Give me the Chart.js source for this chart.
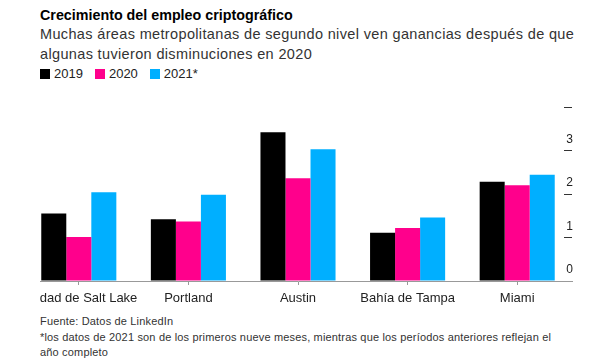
<!DOCTYPE html>
<html lang="es">
<head>
<meta charset="utf-8">
<script src="https://cdn.jsdelivr.net/npm/chart.js@4"></script>
<style>
  body {
    margin: 0;
    width: 589px;
    height: 359px;
    background: #fff;
    font-family: "Liberation Sans", Arial, sans-serif;
    color: #222;
    position: relative;
    overflow: hidden;
  }
  #title {
    position: absolute;
    left: 40px;
    top: 7px;
    font-size: 14.3px;
    font-weight: bold;
    color: #000;
  }
  #subtitle {
    position: absolute;
    left: 40px;
    top: 24px;
    font-size: 14.5px;
    letter-spacing: 0.35px;
    line-height: 20px;
    color: #333;
  }
  #legend {
    position: absolute;
    left: 40px;
    top: 66px;
    font-size: 13px;
    display: flex;
  }
  .item { display: flex; align-items: center; margin-right: 12px; }
  .box { width: 10px; height: 10px; margin-right: 4px; }
  #clip {
    position: absolute;
    left: 40px;
    top: 85px;
    width: 549px;
    height: 226px;
    overflow: hidden;
  }
  #chart-wrap {
    position: absolute;
    left: -40px;
    top: 0;
    width: 589px;
    height: 226px;
  }
  #notes {
    position: absolute;
    left: 40px;
    top: 314px;
    font-size: 11px;
    letter-spacing: 0.17px;
    line-height: 15.5px;
    color: #333;
  }
</style>
</head>
<body>
<div id="title">Crecimiento del empleo criptográfico</div>
<div id="subtitle">Muchas áreas metropolitanas de segundo nivel ven ganancias después de que<br>algunas tuvieron disminuciones en 2020</div>
<div id="legend"></div>
<div id="clip"><div id="chart-wrap"><canvas id="chart"></canvas></div></div>
<div id="notes">Fuente: Datos de LinkedIn<br>*los datos de 2021 son de los primeros nueve meses, mientras que los períodos anteriores reflejan el<br>año completo</div>

<script>
const categories = ["Ciudad de Salt Lake", "Portland", "Austin", "Bahía de Tampa", "Miami"];
const values2019 = [1.55, 1.42, 3.42, 1.11, 2.28];
const values2020 = [1.01, 1.37, 2.36, 1.22, 2.2];
const values2021 = [2.04, 1.98, 3.03, 1.46, 2.44];
const seriesNames = ["2019", "2020", "2021*"];
const seriesColors = ["#000000", "#ff008c", "#00afff"];
const yTickValues = [0, 1, 2, 3, 4];

document.addEventListener("DOMContentLoaded", () => {
  drawLegend();
  drawChart();
});

function drawLegend() {
  const legendDiv = document.getElementById("legend");
  legendDiv.innerHTML = seriesNames
    .map(
      (name, i) =>
        `<div class="item"><span class="box" style="background:${seriesColors[i]}"></span>${name}</div>`
    )
    .join("");
}

function drawChart() {
  const allValues = [values2019, values2020, values2021];
  const ctx = document.getElementById("chart").getContext("2d");

  new Chart(ctx, {
    type: "bar",
    data: {
      labels: categories,
      datasets: allValues.map((values, i) => ({
        label: seriesNames[i],
        data: values,
        backgroundColor: seriesColors[i],
        borderWidth: 0,
        barPercentage: 1,
        categoryPercentage: 0.685,
      })),
    },
    options: {
      responsive: true,
      maintainAspectRatio: false,
      animation: false,
      layout: { padding: { left: 24, top: 22, right: 0, bottom: 0 } },
      plugins: {
        legend: { display: false },
        tooltip: { enabled: false },
      },
      scales: {
        x: {
          afterFit: (scale) => {
            scale.height = 30;
          },
          grid: {
            drawOnChartArea: false,
            offset: false,
            tickLength: 4,
            color: "#999",
          },
          border: { color: "#999", width: 1 },
          ticks: {
            padding: 6,
            color: "#222",
            maxRotation: 0,
            autoSkip: false,
            font: { family: "Liberation Sans", size: 13 },
          },
        },
        y: {
          position: "right",
          min: 0,
          max: 4,
          afterFit: (scale) => {
            scale.width = 17;
          },
          afterBuildTicks: (scale) => {
            scale.ticks = yTickValues.map((v) => ({ value: v }));
          },
          border: { display: false },
          grid: {
            drawOnChartArea: false,
            drawTicks: true,
            tickLength: -8,
            color: "#333",
          },
          ticks: {
            mirror: true,
            padding: 1,
            labelOffset: -11,
            crossAlign: "near",
            color: "#222",
            font: { family: "Liberation Sans", size: 12 },
            callback: (value) => (value === 4 ? "" : value),
          },
        },
      },
    },
  });
}
</script>
</body>
</html>
